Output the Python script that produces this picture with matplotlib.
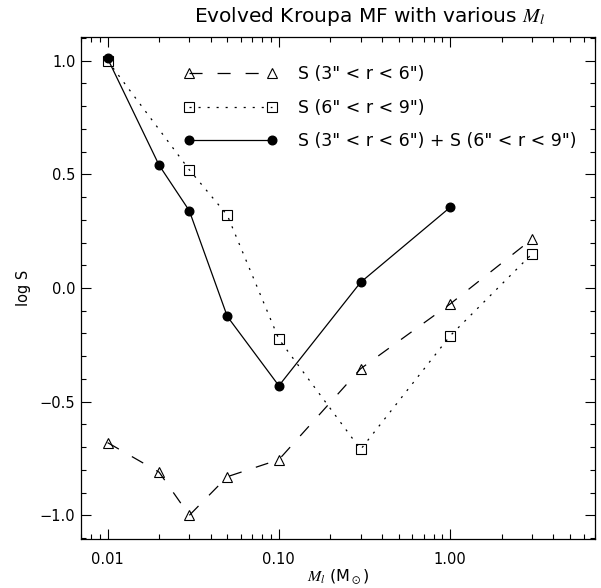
import matplotlib
matplotlib.use("Agg")
import matplotlib.pyplot as plt
from matplotlib.ticker import FixedLocator, LogLocator, NullFormatter, MultipleLocator, FuncFormatter

plt.rcParams['font.family'] = ['DejaVu Sans']
plt.rcParams['mathtext.fontset'] = 'stix'
plt.rcParams['lines.scale_dashes'] = False

# ---- data ----
x_tri = [0.01, 0.02, 0.03, 0.05, 0.1, 0.3, 1.0, 3.0]
y_tri = [-0.68, -0.81, -1.0, -0.83, -0.755, -0.355, -0.07, 0.215]

x_sq = [0.01, 0.03, 0.05, 0.1, 0.3, 1.0, 3.0]
y_sq = [1.0, 0.52, 0.32, -0.225, -0.71, -0.21, 0.15]

x_dot = [0.01, 0.02, 0.03, 0.05, 0.1, 0.3, 1.0]
y_dot = [1.01, 0.54, 0.34, -0.125, -0.43, 0.025, 0.355]

labels = ['S (3" < r < 6")', 'S (6" < r < 9")', 'S (3" < r < 6") + S (6" < r < 9")']
xticks = [0.01, 0.1, 1.0]
xticklabels = ['0.01', '0.10', '1.00']
yticks = [-1.0, -0.5, 0.0, 0.5, 1.0]

W, H = 601, 588
fig = plt.figure(figsize=(W / 100, H / 100), dpi=100)
L, R, T, B = 81, 595, 37, 539
ax = fig.add_axes([L / W, (H - B) / H, (R - L) / W, (B - T) / H])

l1, = ax.plot(x_tri, y_tri, color='black', lw=0.9, dashes=(9.4, 10.8),
              marker='^', ms=7.4, mfc='none', mec='black', mew=0.8, label=labels[0])
l2, = ax.plot(x_sq, y_sq, color='black', lw=0.9, dashes=(1.5, 5.0),
              marker='s', ms=7.6, mfc='none', mec='black', mew=0.8, label=labels[1])
l3, = ax.plot(x_dot, y_dot, color='black', lw=0.9, linestyle='-',
              marker='o', ms=6.2, mfc='black', mec='black', label=labels[2])

ax.set_xscale('log')
ax.set_xlim(0.007, 7.0)
ax.set_ylim(-1.104, 1.104)

ax.xaxis.set_major_locator(FixedLocator(xticks))
ax.xaxis.set_major_formatter(FuncFormatter(lambda v, p: xticklabels[xticks.index(v)] if v in xticks else ''))
ax.xaxis.set_minor_locator(LogLocator(base=10, subs=range(2, 10)))
ax.xaxis.set_minor_formatter(NullFormatter())

ax.yaxis.set_major_locator(FixedLocator(yticks))
ax.yaxis.set_minor_locator(MultipleLocator(0.1))
ax.yaxis.set_major_formatter(FuncFormatter(lambda v, p: ('%.1f' % v).replace('-', '\u2212')))

ax.tick_params(which='both', direction='in', top=True, right=True, width=0.8, labelsize=10.5)
ax.tick_params(which='major', length=7.2)
ax.tick_params(which='minor', length=3.6)
ax.tick_params(axis='x', which='major', pad=9)
ax.tick_params(axis='y', which='major', pad=4)
for s in ax.spines.values():
    s.set_linewidth(0.9)

ax.set_xlabel(r'$M_l$ (M$_\odot$)', fontsize=11.5, labelpad=1)
ax.set_ylabel('log S', fontsize=10.5, labelpad=6)

fig.text(370 / W, 1 - 16 / H, r'Evolved Kroupa MF with various $M_l$', fontsize=14.5,
         ha='center', va='center')

leg = ax.legend(handles=[l1, l2, l3], loc='upper left', bbox_to_anchor=(0.200, 0.944),
                frameon=False, numpoints=2, handlelength=5.38, handletextpad=1.2,
                labelspacing=0.9, fontsize=12.5, borderpad=0, borderaxespad=0)

fig.savefig('out.png', dpi=100)
